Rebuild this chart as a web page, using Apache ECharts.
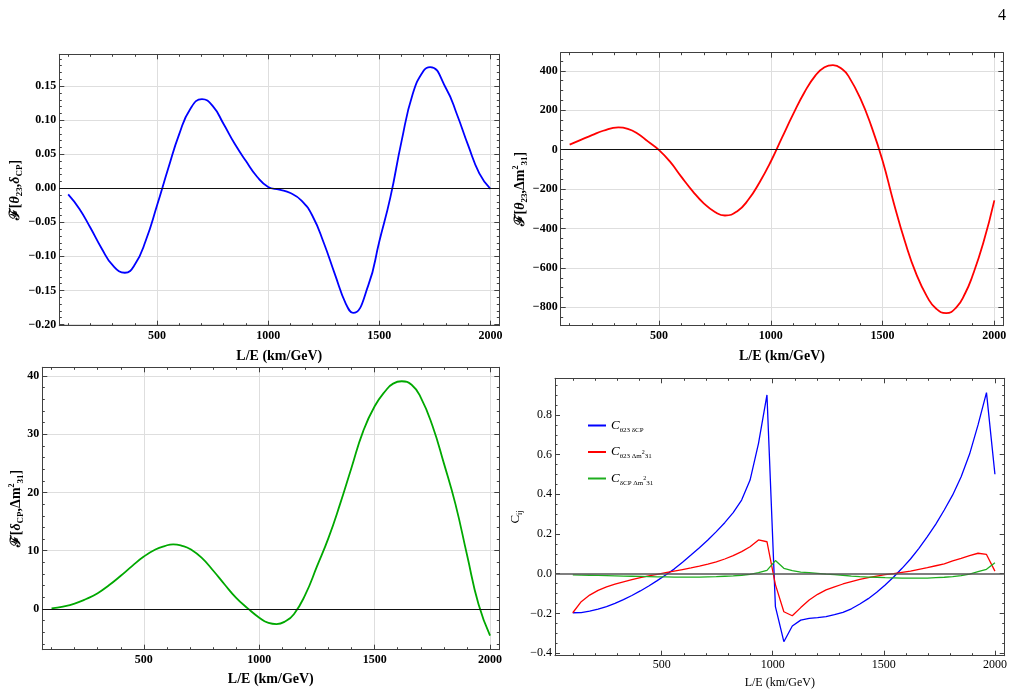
<!DOCTYPE html>
<html>
<head>
<meta charset="utf-8">
<script src="https://cdn.jsdelivr.net/npm/echarts@6/dist/echarts.min.js"></script>
<style>
  html, body { margin: 0; padding: 0; background: #fff; }
  #chart { width: 1021px; height: 694px; }
</style>
</head>
<body>
<div id="chart"></div>
<script>
// ===== F[theta23, deltaCP] =====
const le1 = [100, 150, 200, 250, 300, 355, 400, 450, 500, 550, 600, 650, 702, 750, 800, 850, 900, 950, 1000, 1050,
  1100, 1150, 1200, 1250, 1300, 1350, 1382, 1450, 1500, 1550, 1600, 1650, 1700, 1729, 1800, 1850, 1900, 1950, 2000];
const fThetaDelta = [-0.009, -0.030, -0.058, -0.088, -0.113, -0.124, -0.112, -0.076, -0.025, 0.029, 0.080, 0.117, 0.131,
  0.121, 0.094, 0.065, 0.040, 0.017, 0.002, -0.002, -0.007, -0.018, -0.041, -0.080, -0.126, -0.170, -0.183,
  -0.143, -0.078, -0.013, 0.069, 0.138, 0.173, 0.178, 0.147, 0.108, 0.063, 0.022, -0.001];

// ===== F[theta23, dm31^2] =====
const le2 = [100, 150, 200, 250, 318, 360, 400, 450, 500, 550, 600, 650, 700, 750, 795, 850, 900, 950, 1000, 1050,
  1100, 1150, 1200, 1240, 1278, 1320, 1350, 1400, 1450, 1500, 1550, 1600, 1650, 1700, 1740, 1784, 1830, 1870, 1900,
  1950, 2000];
const fThetaDm = [26, 50, 74, 96, 113, 106, 85, 42, -2, -62, -138, -210, -272, -316, -334, -312, -253, -165, -60, 61,
  180, 290, 377, 418, 429, 408, 368, 261, 118, -56, -270, -466, -629, -748, -807, -829, -800, -727, -647, -475, -257];

// ===== F[deltaCP, dm31^2] =====
const le3 = [100, 150, 200, 250, 300, 350, 400, 450, 500, 550, 590, 627, 670, 700, 750, 800, 850, 900, 950, 1000,
  1040, 1075, 1110, 1150, 1200, 1250, 1300, 1350, 1400, 1450, 1500, 1550, 1580, 1617, 1660, 1700, 1750, 1800, 1850,
  1900, 1950, 2000];
const fDeltaDm = [0.1, 0.4, 0.9, 1.7, 2.7, 4.1, 5.7, 7.4, 9.0, 10.2, 10.8, 11.1, 10.8, 10.3, 8.8, 6.6, 4.2, 1.9, 0.1,
  -1.5, -2.4, -2.6, -2.2, -0.9, 2.5, 7.3, 12.2, 18.0, 24.3, 30.5, 34.8, 37.6, 38.7, 39.1, 38.5, 36.3, 31.5, 25.0,
  18.0, 9.3, 0.8, -4.6];

// ===== correlation coefficients (sampled every 38 km/GeV) =====
const leC = [100, 138, 176, 214, 252, 290, 328, 366, 404, 442, 480, 518, 556, 594, 632, 670, 708, 746, 784, 822,
  860, 898, 936, 974, 1012, 1050, 1088, 1126, 1164, 1202, 1240, 1278, 1316, 1354, 1392, 1430, 1468, 1506, 1544,
  1582, 1620, 1658, 1696, 1734, 1772, 1810, 1848, 1886, 1924, 1962, 2000];

const cThetaDelta = [-0.197, -0.196, -0.189, -0.179, -0.166, -0.150, -0.131, -0.110, -0.087, -0.062, -0.035, -0.007,
  0.023, 0.058, 0.094, 0.131, 0.170, 0.212, 0.257, 0.308, 0.371, 0.472, 0.657, 0.901,
  -0.166, -0.343, -0.264, -0.234, -0.225, -0.222, -0.217, -0.207, -0.195, -0.177, -0.153, -0.126, -0.094, -0.057,
  -0.017, 0.027, 0.074, 0.128, 0.187, 0.250, 0.321, 0.397, 0.489, 0.603, 0.750, 0.913, 0.501];

const cThetaDm = [-0.197, -0.141, -0.108, -0.084, -0.067, -0.053, -0.041, -0.030, -0.020, -0.011, -0.003, 0.005,
  0.013, 0.021, 0.029, 0.038, 0.048, 0.060, 0.074, 0.091, 0.111, 0.136, 0.170, 0.161,
  -0.055, -0.192, -0.212, -0.171, -0.133, -0.104, -0.082, -0.066, -0.052, -0.040, -0.029, -0.020, -0.012, -0.005,
  0.000, 0.007, 0.013, 0.022, 0.030, 0.040, 0.050, 0.064, 0.077, 0.091, 0.103, 0.097, 0.013];

const cDeltaDm = [-0.006, -0.007, -0.008, -0.009, -0.010, -0.011, -0.012, -0.013, -0.014, -0.015, -0.016, -0.016,
  -0.017, -0.017, -0.017, -0.017, -0.016, -0.015, -0.013, -0.011, -0.008, -0.003, 0.005, 0.017,
  0.066, 0.027, 0.015, 0.008, 0.005, 0.002, -0.002, -0.005, -0.008, -0.012, -0.015, -0.017, -0.018, -0.020,
  -0.021, -0.022, -0.022, -0.022, -0.022, -0.020, -0.018, -0.015, -0.010, -0.002, 0.010, 0.022, 0.055];

// ===== tick labels =====
const xTicks = [500, 1000, 1500, 2000];
const xMinorTicks = [100, 200, 300, 400, 600, 700, 800, 900, 1100, 1200, 1300, 1400, 1600, 1700, 1800, 1900];
const yTicks1 = [-0.2, -0.15, -0.1, -0.05, 0, 0.05, 0.1, 0.15];
const yTicks2 = [-800, -600, -400, -200, 0, 200, 400];
const yTicks3 = [0, 10, 20, 30, 40];
const yTicks4 = [-0.4, -0.2, 0, 0.2, 0.4, 0.6, 0.8];

// minor ticks: every step between from and to, skipping the labelled ones
function minorTicks(from, to, step, majors) {
  const out = [];
  const n = Math.round((to - from) / step);
  for (let k = 0; k <= n; k++) {
    const v = Math.round((from + k * step) * 1000) / 1000;
    if (!majors.some(m => Math.abs(m - v) < step / 10)) out.push(v);
  }
  return out;
}

// ========== styles ==========
const serif = "'Liberation Serif', 'Times New Roman', serif";
const frameColor = '#404040';
const gridGray = '#dedede';

const fmt = d => v => (v < 0 ? '\u2212' : '') + Math.abs(v).toFixed(d);

function nameRich(bold, size) {
  const w = bold ? 'bold' : 'normal';
  const base = { fontFamily: serif, fontWeight: w, color: '#000' };
  return {
    m: { ...base, fontSize: size, lineHeight: size + 3 },
    i: { ...base, fontStyle: 'italic', fontSize: size, lineHeight: size + 3 },
    s: { ...base, fontSize: Math.round(size * 0.64), lineHeight: Math.round(size * 0.6), verticalAlign: 'bottom' },
    p: { ...base, fontSize: Math.round(size * 0.6), lineHeight: Math.round(size * 0.6), verticalAlign: 'top' }
  };
}

const grid = [];
const xAxis = [];
const yAxis = [];
const series = [];

// ========== one framed panel (ticks on all four sides) ==========
function addPanel(p) {
  const g = grid.length;
  grid.push({ left: p.box[0], top: p.box[1], width: p.box[2], height: p.box[3] });

  const labelStyle = {
    fontFamily: serif, fontWeight: p.bold ? 'bold' : 'normal', fontSize: 12, color: '#000'
  };

  const mainAxis = (pos, range, ticks, withLabel, extra) => ({
    type: 'value', gridIndex: g, position: pos, min: range[0], max: range[1],
    axisLine: { show: true, onZero: false, lineStyle: { color: frameColor, width: 1 } },
    axisTick: { show: true, inside: true, length: 5, customValues: ticks, lineStyle: { color: frameColor, width: 1 } },
    axisLabel: withLabel ? { show: true, customValues: ticks, ...labelStyle, ...extra.label } : { show: false },
    splitLine: { show: withLabel && p.gridLines, lineStyle: { color: gridGray, width: 1 } },
    ...(withLabel ? extra.name : {})
  });

  const minorAxis = (pos, range, ticks) => ({
    type: 'value', gridIndex: g, position: pos, min: range[0], max: range[1],
    axisLine: { show: false, onZero: false },
    axisTick: { show: true, inside: true, length: 2.5, customValues: ticks, lineStyle: { color: frameColor, width: 1 } },
    axisLabel: { show: false },
    splitLine: { show: false }
  });

  const xExtra = {
    label: { margin: p.xLabelMargin, formatter: v => String(v) },
    name: {
      name: 'L/E (km/GeV)', nameLocation: 'middle', nameGap: p.xNameGap, nameMoveOverlap: false,
      nameTextStyle: { fontFamily: serif, fontWeight: p.bold ? 'bold' : 'normal', fontSize: p.xNameSize, color: '#000' }
    }
  };
  const yExtra = {
    label: { margin: 3, formatter: p.yFmt },
    name: {
      name: p.yName, nameLocation: 'middle', nameGap: p.yNameGap, nameMoveOverlap: false,
      nameTextStyle: { rich: nameRich(p.bold, p.yNameSize) }
    }
  };

  const xi = xAxis.length;
  xAxis.push(mainAxis('bottom', p.x, xTicks, true, xExtra));
  xAxis.push(minorAxis('bottom', p.x, xMinorTicks));
  xAxis.push(mainAxis('top', p.x, xTicks, false));
  xAxis.push(minorAxis('top', p.x, xMinorTicks));

  const yi = yAxis.length;
  yAxis.push(mainAxis('left', p.y, p.yTicks, true, yExtra));
  yAxis.push(minorAxis('left', p.y, p.yMinor));
  yAxis.push(mainAxis('right', p.y, p.yTicks, false));
  yAxis.push(minorAxis('right', p.y, p.yMinor));

  p.lines.forEach((ln, k) => {
    series.push({
      name: ln.name, type: 'line', xAxisIndex: xi, yAxisIndex: yi,
      data: ln.x.map((x, i) => [x, ln.y[i]]),
      smooth: ln.smooth, symbol: 'none', color: ln.color,
      lineStyle: { color: ln.color, width: ln.width }, itemStyle: { color: ln.color },
      z: 3,
      markLine: k === 0 ? {
        silent: true, symbol: ['none', 'none'], label: { show: false },
        lineStyle: { color: p.zeroColor, width: p.zeroWidth, type: 'solid' },
        data: [{ yAxis: 0 }], animation: false
      } : undefined
    });
  });
}

addPanel({
  box: [59.3, 54.3, 440, 271.4], x: [60, 2040], y: [-0.2018, 0.1968], bold: true, gridLines: true,
  yTicks: yTicks1, yMinor: minorTicks(-0.2, 0.19, 0.01, yTicks1), yFmt: fmt(2),
  yName: '{m|\u2131[}{i|\u03b8}{s|23}{m|,}{i|\u03b4}{s|CP}{m|]}', yNameGap: 35, yNameSize: 14,
  xLabelMargin: 4, xNameGap: 24, xNameSize: 14, zeroColor: '#111', zeroWidth: 1,
  lines: [{ name: 'f1', x: le1, y: fThetaDelta, color: '#0000ff', width: 1.8, smooth: 0.5 }]
});

addPanel({
  box: [560.7, 52.7, 442.6, 273], x: [60, 2040], y: [-893, 492], bold: true, gridLines: true,
  yTicks: yTicks2, yMinor: minorTicks(-850, 450, 50, yTicks2), yFmt: fmt(0),
  yName: '{m|\u2131[}{i|\u03b8}{s|23}{m|,\u0394m}{p|2}{s|31}{m|]}', yNameGap: 32, yNameSize: 14,
  xLabelMargin: 4, xNameGap: 24, xNameSize: 14, zeroColor: '#111', zeroWidth: 1,
  lines: [{ name: 'f2', x: le2, y: fThetaDm, color: '#ff0000', width: 1.8, smooth: 0.5 }]
});

addPanel({
  box: [42.3, 367.3, 457, 282.4], x: [60, 2040], y: [-7, 41.5], bold: true, gridLines: true,
  yTicks: yTicks3, yMinor: minorTicks(-6, 40, 2, yTicks3), yFmt: fmt(0),
  yName: '{m|\u2131[}{i|\u03b4}{s|CP}{m|,\u0394m}{p|2}{s|31}{m|]}', yNameGap: 17, yNameSize: 14,
  xLabelMargin: 4, xNameGap: 23, xNameSize: 14, zeroColor: '#111', zeroWidth: 1,
  lines: [{ name: 'f3', x: le3, y: fDeltaDm, color: '#00a800', width: 1.8, smooth: 0.5 }]
});

const cNames = ['C_th23_dCP', 'C_th23_dm31', 'C_dCP_dm31'];
const y4Odd = [-0.3, -0.1, 0.1, 0.3, 0.5, 0.7, 0.9];
addPanel({
  box: [555, 378.3, 449.7, 277.4], x: [20, 2044], y: [-0.4135, 0.985], bold: false, gridLines: false,
  yTicks: yTicks4, yMinor: minorTicks(-0.4, 0.95, 0.05, yTicks4.concat(y4Odd)).concat(y4Odd),
  yFmt: fmt(1),
  yName: '{m|C}{s|ij}', yNameGap: 31, yNameSize: 13,
  xLabelMargin: 3, xNameGap: 21, xNameSize: 12, zeroColor: '#555', zeroWidth: 1.5,
  lines: [
    { name: cNames[0], x: leC, y: cThetaDelta, color: '#0000ff', width: 1.3, smooth: false },
    { name: cNames[1], x: leC, y: cThetaDm, color: '#ff0000', width: 1.3, smooth: false },
    { name: cNames[2], x: leC, y: cDeltaDm, color: '#1fae1f', width: 1.3, smooth: false }
  ]
});

const legendText = {
  [cNames[0]]: '{c|C}{s|\u03b823 \u03b4CP}',
  [cNames[1]]: '{c|C}{s|\u03b823 \u0394m}{p|2}{s|31}',
  [cNames[2]]: '{c|C}{s|\u03b4CP \u0394m}{p|2}{s|31}'
};

const chart = echarts.init(document.getElementById('chart'));
chart.setOption({
  animation: false,
  backgroundColor: '#fff',
  grid, xAxis, yAxis, series,
  legend: {
    data: cNames, orient: 'vertical', left: 588, top: 419, padding: 0,
    icon: 'rect', itemWidth: 18, itemHeight: 2, itemGap: 12,
    formatter: name => legendText[name],
    textStyle: {
      rich: {
        c: { fontFamily: serif, fontStyle: 'italic', fontSize: 13, lineHeight: 16, color: '#000' },
        s: { fontFamily: serif, fontSize: 7, lineHeight: 10, verticalAlign: 'bottom', color: '#000' },
        p: { fontFamily: serif, fontSize: 6, lineHeight: 8, padding: [0, 0, 5, 0], verticalAlign: 'bottom', color: '#000' }
      }
    }
  },
  graphic: [{
    type: 'text', left: 998, top: 8,
    style: { text: '4', font: '16px ' + serif, fill: '#000' }
  }]
});

window.addEventListener('resize', () => chart.resize());
</script>
</body>
</html>
